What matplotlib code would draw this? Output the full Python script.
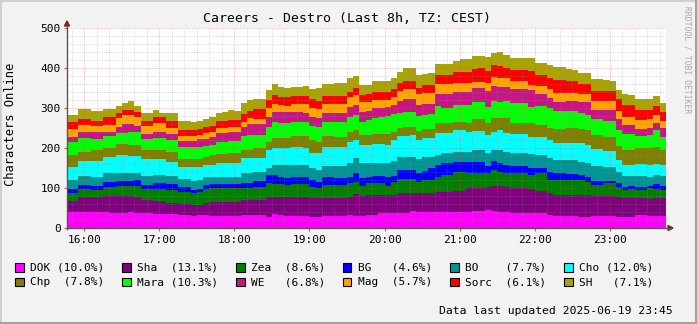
import numpy as np
import matplotlib
matplotlib.use("Agg")
import matplotlib.pyplot as plt
from matplotlib.patches import Polygon, Rectangle
from matplotlib.lines import Line2D

W, H = 697, 324
MONO = "DejaVu Sans Mono"

# ---------------- data (5-minute samples, 15:45 .. 23:40) ----------------
series_names = ["DOK", "Sha", "Zea", "BG", "BO", "Cho", "Chp", "Mara", "WE", "Mag", "Sorc", "SH"]
legend_labels = ["DOK (10.0%)", "Sha  (13.1%)", "Zea  (8.6%)", "BG   (4.6%)", "BO    (7.7%)", "Cho (12.0%)",
                 "Chp  (7.8%)", "Mara (10.3%)", "WE   (6.8%)", "Mag  (5.7%)", "Sorc  (6.1%)", "SH   (7.1%)"]
colors = ["#FF00FF", "#800080", "#008000", "#0000FF", "#009595", "#00FFFF",
          "#808000", "#00FF00", "#C71585", "#FFA500", "#FF0000", "#A9A400"]

start_time = "15:45"
step_minutes = 5

DOK = [41,41,41,41,39,39,39,38,38,38,39,38,38,37,35,35,
       35,35,33,33,30,33,33,30,30,30,30,30,33,33,33,33,
       27,35,33,30,30,30,30,27,27,30,30,30,30,33,30,30,
       33,33,37,37,38,38,38,43,39,39,39,41,41,41,41,41,
       41,43,43,45,43,41,41,38,38,38,37,38,38,33,30,30,
       30,30,27,27,30,30,30,30,28,28,28,33,33,30,30,30]
Sha = [27,27,36,36,38,38,41,42,42,42,41,40,32,33,33,33,
       27,27,27,27,27,24,30,36,36,36,36,36,37,37,37,37,
       50,43,45,47,47,47,47,47,47,44,44,44,44,45,55,50,
       49,49,45,45,44,50,50,45,49,49,49,50,50,50,52,52,
       58,56,56,58,62,64,61,61,61,61,60,55,55,54,52,52,
       53,53,56,56,50,50,50,50,49,46,46,41,41,42,44,44]
Zea = [19,19,20,20,18,18,22,22,25,25,25,27,27,27,29,29,
       33,33,31,31,30,34,34,33,33,33,33,33,29,29,33,33,
       35,32,32,30,33,33,33,28,25,33,33,33,33,34,31,25,
       30,30,30,23,34,34,34,34,28,32,32,37,41,41,48,48,
       39,39,39,35,40,36,36,38,38,38,35,44,44,33,38,38,
       37,37,37,33,27,27,32,32,25,21,23,21,21,27,23,21]
BG = [10,10,10,10,10,10,14,14,13,13,13,15,10,10,15,15,
      15,15,11,11,8,6,10,10,10,10,10,10,13,13,15,15,
      21,23,18,17,17,17,18,18,17,20,20,17,17,16,21,19,
      16,18,18,23,14,23,23,23,22,23,29,29,30,30,25,25,
      28,28,28,17,23,21,19,18,18,18,17,12,12,21,17,17,
      15,15,13,12,11,11,6,6,11,8,8,7,7,6,13,10]
BO = [23,23,23,23,22,22,21,21,19,19,19,17,23,23,20,20,
      20,20,20,20,23,23,20,18,18,18,18,18,25,25,23,23,
      16,24,29,33,30,30,29,31,29,28,28,31,31,34,37,38,
      34,32,32,34,38,33,33,33,34,34,28,25,25,25,25,25,
      25,29,29,32,27,33,34,33,33,33,36,33,33,33,33,33,
      35,35,33,34,37,37,35,35,28,27,25,28,28,23,23,25]
Cho = [33,33,37,37,40,40,41,41,45,45,43,43,42,42,40,40,
       36,36,31,31,35,33,30,30,35,35,36,36,37,37,33,33,
       46,42,42,42,45,45,42,37,42,47,47,47,47,54,46,45,
       45,48,48,45,52,52,52,54,48,47,47,55,50,50,54,54,
       50,48,48,46,46,50,47,47,47,47,43,45,45,46,43,43,
       43,43,46,46,42,42,40,40,29,27,27,30,30,29,27,27]
Chp = [29,29,24,24,28,28,21,21,28,28,27,27,23,23,23,23,
       25,25,19,19,19,19,21,25,23,23,24,24,21,21,25,25,
       21,25,25,27,28,28,31,32,29,28,28,26,26,25,25,25,
       25,25,25,28,21,19,23,21,23,23,23,25,25,25,21,21,
       22,29,29,30,33,29,36,27,27,27,34,31,31,29,34,34,
       36,36,35,37,36,36,34,34,35,38,38,39,39,42,42,38]
Mara = [34,34,33,33,27,27,31,31,28,28,34,34,27,27,31,31,
        29,29,31,31,30,30,27,25,31,31,30,30,35,37,33,33,
        37,42,38,36,36,36,36,35,37,36,36,38,38,37,37,34,
        38,41,43,45,44,39,38,38,37,35,38,43,39,39,41,41,
        44,44,44,40,44,42,43,50,50,50,41,47,47,50,46,46,
        44,44,40,38,39,39,41,41,40,40,40,30,30,34,43,32]
WE = [12,12,17,17,19,19,11,11,14,21,18,14,13,13,15,15,
      14,14,15,15,16,20,17,21,22,22,24,24,23,27,27,27,
      25,25,27,29,25,25,22,22,21,22,22,22,22,25,25,25,
      23,25,23,23,22,30,31,31,27,28,25,30,34,34,34,34,
      34,33,33,39,37,36,35,35,35,35,42,30,30,25,23,23,
      25,25,29,33,23,23,27,27,28,23,23,18,18,16,17,22]
Mag = [19,19,16,16,14,14,16,16,22,23,23,22,20,20,21,21,
       17,17,12,12,12,10,16,13,13,13,12,12,13,15,13,13,
       21,19,18,14,19,19,22,22,23,22,22,22,22,24,25,25,
       23,19,19,17,20,25,26,26,27,27,27,25,25,25,21,21,
       22,17,17,20,23,22,22,21,21,21,12,20,20,23,21,21,
       20,20,19,19,23,23,23,23,20,20,20,23,23,23,21,19]
Sorc = [18,18,15,15,13,13,20,20,14,13,13,14,13,13,15,15,
        16,16,15,15,15,15,14,14,17,17,17,17,19,19,25,25,
        21,22,21,22,20,20,20,23,21,20,20,20,20,14,17,16,
        19,21,21,21,20,20,20,20,17,20,20,22,22,22,29,29,
        28,31,33,30,29,31,25,27,27,27,36,27,27,27,33,33,
        30,30,25,25,25,25,25,25,29,29,29,25,25,23,22,23]
SH = [17,17,25,25,25,24,20,20,17,17,22,14,20,20,18,10,
      20,20,22,22,19,20,20,23,20,23,25,22,27,27,25,25,
      25,28,25,24,23,23,25,25,31,30,30,32,32,33,31,25,
      22,27,27,27,29,28,31,31,31,28,31,28,28,28,27,31,
      31,33,31,36,31,36,33,29,29,29,31,31,31,33,32,32,
      29,27,27,28,29,29,27,24,23,27,25,27,27,27,25,22]

series = [DOK, Sha, Zea, BG, BO, Cho, Chp, Mara, WE, Mag, Sorc, SH]

hour_ticks = [16, 17, 18, 19, 20, 21, 22, 23]
hour_labels = ["16:00", "17:00", "18:00", "19:00", "20:00", "21:00", "22:00", "23:00"]
y_ticks = [0, 100, 200, 300, 400, 500]

title = "Careers - Destro (Last 8h, TZ: CEST)"
ylabel = "Characters Online"
footer = "Data last updated 2025-06-19 23:45"
watermark = "RRDTOOL / TOBI OETIKER"

# ---------------- figure ----------------
def fx(px):
    return px / W

def fy(py):
    return 1 - py / H

fig = plt.figure(figsize=(W / 100, H / 100), dpi=100, facecolor="#F2F2F2")
L, R, T, B = 67, 666, 28, 228
ax = fig.add_axes([fx(L), fy(B), (R - L) / W, (B - T) / H])
ax.set_facecolor("white")

h0, m0 = map(int, start_time.split(":"))
n = len(DOK)
x_edges = h0 + m0 / 60 + (step_minutes / 60) * np.arange(n + 1)
vals = [np.append(np.asarray(v, float), v[-1]) for v in series]
ax.stackplot(x_edges, *vals, colors=colors, step="post", linewidth=0, zorder=1)

ax.set_xlim(15.77, 23.75)
ax.set_ylim(0, 500)

# grid (drawn on top, dotted)
minor_kw = dict(color="#8F8F8F", alpha=0.55, lw=0.6, dashes=(0.75, 1.45), zorder=3)
major_kw = dict(color="#DE4F4F", alpha=0.6, lw=0.6, dashes=(0.75, 1.45), zorder=3)
for yv in range(20, 501, 20):
    ax.axhline(yv, **(major_kw if yv % 100 == 0 else minor_kw))
minor_x = np.arange(15 + 50 / 60, 23.75, 10 / 60)
for xv in minor_x:
    if abs(xv - round(xv)) < 1e-6:
        continue
    ax.axvline(xv, **minor_kw)
for xv in hour_ticks:
    ax.axvline(xv, **major_kw)

for s in ax.spines.values():
    s.set_visible(False)

ax.set_xticks(hour_ticks)
ax.set_xticklabels(hour_labels, family=MONO, fontsize=8)
ax.set_yticks(y_ticks)
ax.set_yticklabels([str(v) for v in y_ticks], family=MONO, fontsize=8)
ax.tick_params(axis="x", length=2, width=0.8, color="#DE4F4F", pad=3)
ax.tick_params(axis="y", length=2, width=0.8, color="#DE4F4F", pad=2.5)

# axis lines + arrows
axis_col = "#1F1F1F"
arrow_col = "#801F1F"
fig.add_artist(Line2D([fx(67), fx(67)], [fy(228.5), fy(25)], color="#555555", lw=1.0))
fig.add_artist(Line2D([fx(66.5), fx(670)], [fy(228), fy(228)], color="#555555", lw=1.0))
fig.add_artist(Polygon([[fx(64.5), fy(26)], [fx(69.5), fy(26)], [fx(67), fy(21)]],
                       closed=True, color=arrow_col, transform=fig.transFigure))
fig.add_artist(Polygon([[fx(668), fy(225.5)], [fx(668), fy(230.5)], [fx(673), fy(228)]],
                       closed=True, color=arrow_col, transform=fig.transFigure))

# texts
fig.text(fx(347), fy(19), title, ha="center", va="center", family=MONO, fontsize=9.5, color="black")
fig.text(fx(11), fy(124), ylabel, ha="center", va="center", rotation=90, family=MONO, fontsize=8.7)
fig.text(fx(687.5), fy(60), watermark, ha="center", va="center", rotation=270, family=MONO,
         fontsize=5.8, color="#A8A8A8")
fig.text(fx(673), fy(310.5), footer, ha="right", va="center", family=MONO, fontsize=8.2)

# legend
box_x = [15, 122, 236, 343, 450, 564]
txt_x = [30, 137, 251, 358, 465, 579]
row_y = [267.5, 282.0]
for i, (lab, col) in enumerate(zip(legend_labels, colors)):
    r, c = divmod(i, 6)
    yc = row_y[r]
    fig.add_artist(Rectangle((fx(box_x[c]), fy(yc + 4.2)), 8.5 / W, 8.4 / H, facecolor=col,
                             edgecolor="black", lw=0.8, transform=fig.transFigure))
    fig.text(fx(txt_x[c]), fy(yc + 0.3), lab, ha="left", va="center", family=MONO, fontsize=8)

# 3D frame
fig.add_artist(Line2D([fx(0), fx(W)], [fy(0.8), fy(0.8)], color="#CFCFCF", lw=1.4))
fig.add_artist(Line2D([fx(0.8), fx(0.8)], [fy(0), fy(H)], color="#CFCFCF", lw=1.4))
fig.add_artist(Line2D([fx(0), fx(W)], [fy(H - 0.8), fy(H - 0.8)], color="#9E9E9E", lw=1.4))
fig.add_artist(Line2D([fx(W - 0.8), fx(W - 0.8)], [fy(0), fy(H)], color="#9E9E9E", lw=1.4))

fig.savefig("out.png", dpi=100, facecolor=fig.get_facecolor())
